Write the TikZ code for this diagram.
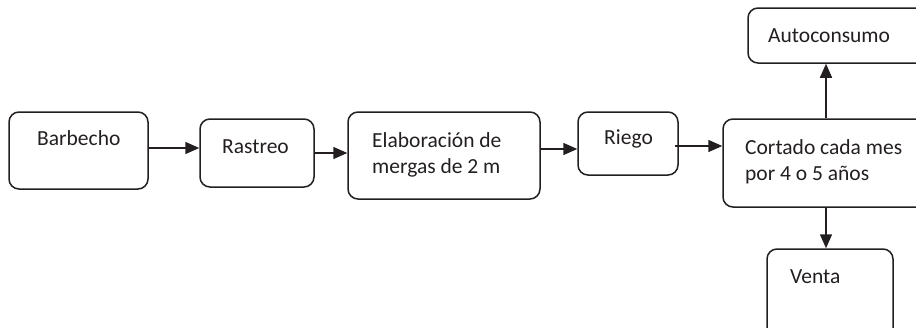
\documentclass[tikz,border=0pt]{standalone}
\usepackage{fontspec}
\setmainfont{Carlito}
\usetikzlibrary{arrows.meta}
\definecolor{ink}{HTML}{231F20}
\tikzset{
  box/.style={draw=ink, line width=1.5pt, rounded corners=10pt, inner sep=0pt},
  lbl/.style={anchor=base west, inner sep=0pt, text=ink, font=\fontsize{21.5}{26}\selectfont},
  arr/.style={draw=ink, line width=1.5pt, -{Triangle[length=14pt,width=12pt]}}
}
\begin{document}
\begin{tikzpicture}[x=1pt,y=-1pt]
\useasboundingbox (0,0) rectangle (916,327);
\clip (0,0) rectangle (916,327);
% boxes
\node[box, minimum width=139pt, minimum height=77pt] (barb) at (78.5,150.5) {};
\node[box, minimum width=114pt, minimum height=68pt] (rast) at (257,153) {};
\node[box, minimum width=192pt, minimum height=87pt] (elab) at (444,155.5) {};
\node[box, minimum width=100pt, minimum height=63pt] (riego) at (628,143.5) {};
\node[box, minimum width=217pt, minimum height=88pt] (cort) at (831.5,163) {};
\node[box, minimum width=192pt, minimum height=55pt] (auto) at (844,35.5) {};
\node[box, minimum width=126pt, minimum height=91pt] (venta) at (830,294.5) {};
% labels
\node[lbl] (tbarb) at (37,145) {Barbecho};
\node[lbl] (trast) at (222,153) {Rastreo};
\node[lbl] (telab1) at (372,147) {Elaboración de};
\node[lbl] (telab2) at (372,173) {mergas de 2 m};
\node[lbl] (triego) at (604,144) {Riego};
\node[lbl] (tcort1) at (745,154) {Cortado cada mes};
\node[lbl] (tcort2) at (745,180) {por 4 o 5 años};
\node[lbl] (tauto) at (768,42) {Autoconsumo};
\node[lbl] (tventa) at (790,283) {Venta};
% connectors
\draw[arr] (barb.east |- 0,148) -- (rast.west |- 0,148);
\draw[arr] (rast.east |- 0,153) -- (elab.west |- 0,153);
\draw[arr] (elab.east |- 0,149) -- (riego.west |- 0,149);
\draw[arr] ([xshift=-4pt]riego.east |- 0,146) -- (cort.west |- 0,146);
\draw[arr] (826,0 |- cort.north) -- (826,0 |- auto.south);
\draw[arr] (826,0 |- cort.south) -- (826,0 |- venta.north);
\end{tikzpicture}
\end{document}
